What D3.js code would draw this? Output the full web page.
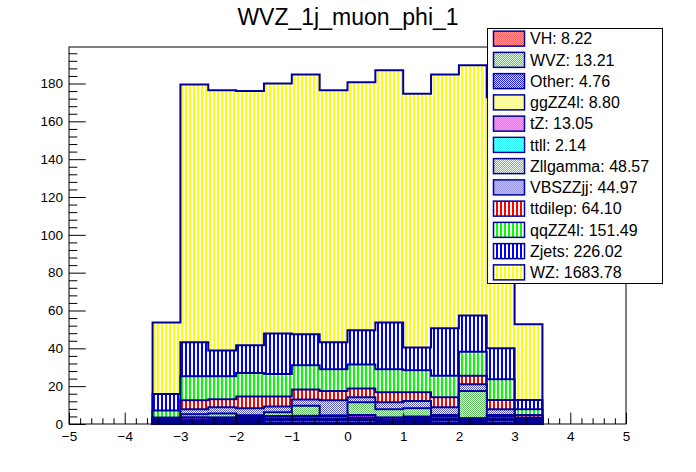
<!DOCTYPE html>
<html><head><meta charset="utf-8">
<script src="https://cdn.jsdelivr.net/npm/d3@7"></script>
<style>
body{margin:0;background:#fff}
svg{display:block}
text{font-family:"Liberation Sans",Arial,Helvetica,sans-serif}
</style>
</head><body>
<svg id="c" width="696" height="472"></svg>
<script>
// ---- data ----
const binEdges = [-3.5,-3,-2.5,-2,-1.5,-1,-0.5,0,0.5,1,1.5,2,2.5,3,3.5];
// stack order: bottom -> top (also legend order top -> bottom)
const processes = ["VH","WVZ","Other","ggZZ4l","tZ","ttll","Zllgamma","VBSZZjj","ttdilep","qqZZ4l","Zjets","WZ"];
const legendTotals = ["8.22","13.21","4.76","8.80","13.05","2.14","48.57","44.97","64.10","151.49","226.02","1683.78"];
const VH       = [0.3,0.6,0.5,0.6,0.7,0.7,0.7,0.8,0.6,0.65,0.7,0.5,0.7,0.4];
const WVZ      = [0.5,0.9,1.0,1.0,1.1,1.2,1.1,1.2,0.9,1.0,1.1,0.8,1.2,0.7];
const Other    = [0.3,0.3,0.35,0.4,0.4,0.4,0.35,0.45,0.3,0.35,0.4,0.3,0.35,0.25];
const ggZZ4l   = [0.4,0.6,0.6,0.7,0.7,0.75,0.8,0.8,0.6,0.7,0.7,0.5,0.75,0.45];
const tZ       = [0.45,1.0,0.9,0.95,1.1,1.15,1.15,1.3,0.95,1.0,1.1,0.8,1.2,0.6];
const ttll     = [0.05,0.1,0.15,0.15,0.2,0.2,0.2,0.2,0.15,0.2,0.2,0.1,0.2,0.1];
const Zllgamma = [0.6,1.6,2.1,0.8,2.0,5.3,0.2,6.7,4.25,4.4,0.55,14.4,0.35,0.3];
const VBSZZjj  = [0.4,2.65,3.2,3.7,3.1,3.3,8.0,2.65,3.7,3.9,4.05,3.6,3.0,0.7];
const ttdilep  = [0.5,4.85,4.3,6.3,5.2,5.3,5.0,4.7,5.35,4.6,5.3,4.5,4.95,1.25];
const qqZZ4l   = [3.7,12.6,12.1,12.4,11.9,12.7,11.4,12.7,12.1,11.6,11.4,12.7,10.9,3.0];
const Zjets    = [8.7,18.0,13.7,14.6,21.5,16.4,14.3,18.0,24.8,12.1,25.1,19.2,16.4,4.95];
const WZ       = [37.8,136.3,137.6,134.4,132.1,137.4,133.3,131.1,133.3,134.1,134.2,132.2,132.8,40.0];
const xTicks = [-5,-4,-3,-2,-1,0,1,2,3,4,5];
const yTicks = [0,20,40,60,80,100,120,140,160,180];
const title = "WVZ_1j_muon_phi_1";

const series = {VH,WVZ,Other,ggZZ4l,tZ,ttll,Zllgamma,VBSZZjj,ttdilep,qqZZ4l,Zjets,WZ};

// ---- styles ----
const style = {
  VH:{c:"#ff0000",p:"check"}, WVZ:{c:"#00ee00",p:"check"}, Other:{c:"#0000ff",p:"check"},
  ggZZ4l:{c:"#ffff00",p:"check"}, tZ:{c:"#ff00ff",p:"check"}, ttll:{c:"#00ffff",p:"check"},
  Zllgamma:{c:"#5cc05c",p:"check"}, VBSZZjj:{c:"#5a5ad0",p:"check"},
  ttdilep:{c:"#ff0000",p:"vert"}, qqZZ4l:{c:"#00ff00",p:"vert"}, Zjets:{c:"#0000ff",p:"vert"}, WZ:{c:"#ffff00",p:"vert"}
};
const lineColor = "#000099";

const svg = d3.select("#c");
const W = 696, H = 472;
const fr = {l:69, r:626, t:47, b:424};
const x = d3.scaleLinear().domain([-5,5]).range([fr.l, fr.r]);
const y = d3.scaleLinear().domain([0,199.3]).range([fr.b, fr.t]);

svg.append("rect").attr("width",W).attr("height",H).attr("fill","#fff");

// patterns
const defs = svg.append("defs");
processes.forEach(p=>{
  const s = style[p];
  if (s.p === "vert") {
    const pat = defs.append("pattern").attr("id","pat-"+p).attr("patternUnits","userSpaceOnUse")
      .attr("width",4).attr("height",4);
    pat.append("rect").attr("width",4).attr("height",4).attr("fill","#fff");
    pat.append("rect").attr("x",1).attr("width",2).attr("height",4).attr("fill",s.c).attr("shape-rendering","crispEdges");
  } else {
    const pat = defs.append("pattern").attr("id","pat-"+p).attr("patternUnits","userSpaceOnUse")
      .attr("width",2).attr("height",2);
    pat.append("rect").attr("width",2).attr("height",2).attr("fill","#fff");
    pat.append("rect").attr("x",0).attr("y",0).attr("width",1).attr("height",1).attr("fill",s.c).attr("shape-rendering","crispEdges");
    pat.append("rect").attr("x",1).attr("y",1).attr("width",1).attr("height",1).attr("fill",s.c).attr("shape-rendering","crispEdges");
  }
});

// cumulative stack
const nb = binEdges.length - 1;
const cum = [];
let run = new Array(nb).fill(0);
processes.forEach(p=>{
  run = run.map((v,i)=> v + series[p][i]);
  cum.push({name:p, vals: run.slice()});
});

const line = d3.line().x(d=>x(d[0])).y(d=>y(d[1]));
function stepPts(vals){
  const pts = [[binEdges[0],0]];
  vals.forEach((v,i)=>{ pts.push([binEdges[i],v]); pts.push([binEdges[i+1],v]); });
  pts.push([binEdges[nb],0]);
  return pts;
}
const gH = svg.append("g");
cum.slice().reverse().forEach(layer=>{
  gH.append("path").attr("d", line(stepPts(layer.vals)) + "Z")
    .attr("fill","url(#pat-"+layer.name+")")
    .attr("stroke",lineColor).attr("stroke-width",2).attr("stroke-linejoin","miter");
});

// axes
const fmt = d3.format("");
const gx = svg.append("g").attr("transform",`translate(0,${fr.b})`);
gx.call(d3.axisBottom(x).tickValues(xTicks).tickSize(-11.3).tickPadding(7).tickFormat(d3.format("d")));
const xMinor = d3.range(-50,51,2).map(v=>v/10).filter(v=>Math.abs(v-Math.round(v))>1e-6);
const gxm = svg.append("g").attr("transform",`translate(0,${fr.b})`);
gxm.call(d3.axisBottom(x).tickValues(xMinor).tickSize(-5.7).tickFormat(""));
const gy = svg.append("g").attr("transform",`translate(${fr.l},0)`);
gy.call(d3.axisLeft(y).tickValues(yTicks).tickSize(-16.7).tickPadding(6).tickFormat(d3.format("d")));
const yMinor = d3.range(0,200,4).filter(v=>v%20!==0);
const gym = svg.append("g").attr("transform",`translate(${fr.l},0)`);
gym.call(d3.axisLeft(y).tickValues(yMinor).tickSize(-8.3).tickFormat(""));
[gx,gxm,gy,gym].forEach(g=>{
  g.select(".domain").remove();
  g.selectAll("line").attr("stroke","#000").attr("stroke-width",1);
  g.selectAll("text").attr("font-size","13.5px").attr("fill","#000")
   .attr("font-family",'"Liberation Sans",Arial,sans-serif');
});

// frame
svg.append("rect").attr("x",fr.l).attr("y",fr.t).attr("width",fr.r-fr.l).attr("height",fr.b-fr.t)
  .attr("fill","none").attr("stroke","#000").attr("stroke-width",1);

// title
svg.append("text").attr("x",348).attr("y",25).attr("text-anchor","middle")
  .attr("font-size","23px").attr("fill","#000").text(title);

// legend
const lg = {x:487, y:28, w:175, h:255};
const L = svg.append("g");
L.append("rect").attr("x",lg.x+0.5).attr("y",lg.y+0.5).attr("width",lg.w).attr("height",lg.h)
  .attr("fill","#fff").attr("stroke","#000").attr("stroke-width",1);
const rowH = lg.h/processes.length;
const ent = L.selectAll("g.e").data(processes).join("g").attr("class","e")
  .attr("transform",(d,i)=>`translate(${lg.x},${lg.y + rowH*(i+0.5)})`);
ent.append("rect").attr("x",6.5).attr("y",-7.5).attr("width",31).attr("height",15)
  .attr("fill",d=>"url(#pat-"+d+")").attr("stroke",lineColor).attr("stroke-width",1.5);
ent.append("text").attr("x",43).attr("y",5.8).attr("font-size","16px").attr("fill","#000")
  .text((d,i)=>d + ": " + legendTotals[i]);
</script>
</body></html>
